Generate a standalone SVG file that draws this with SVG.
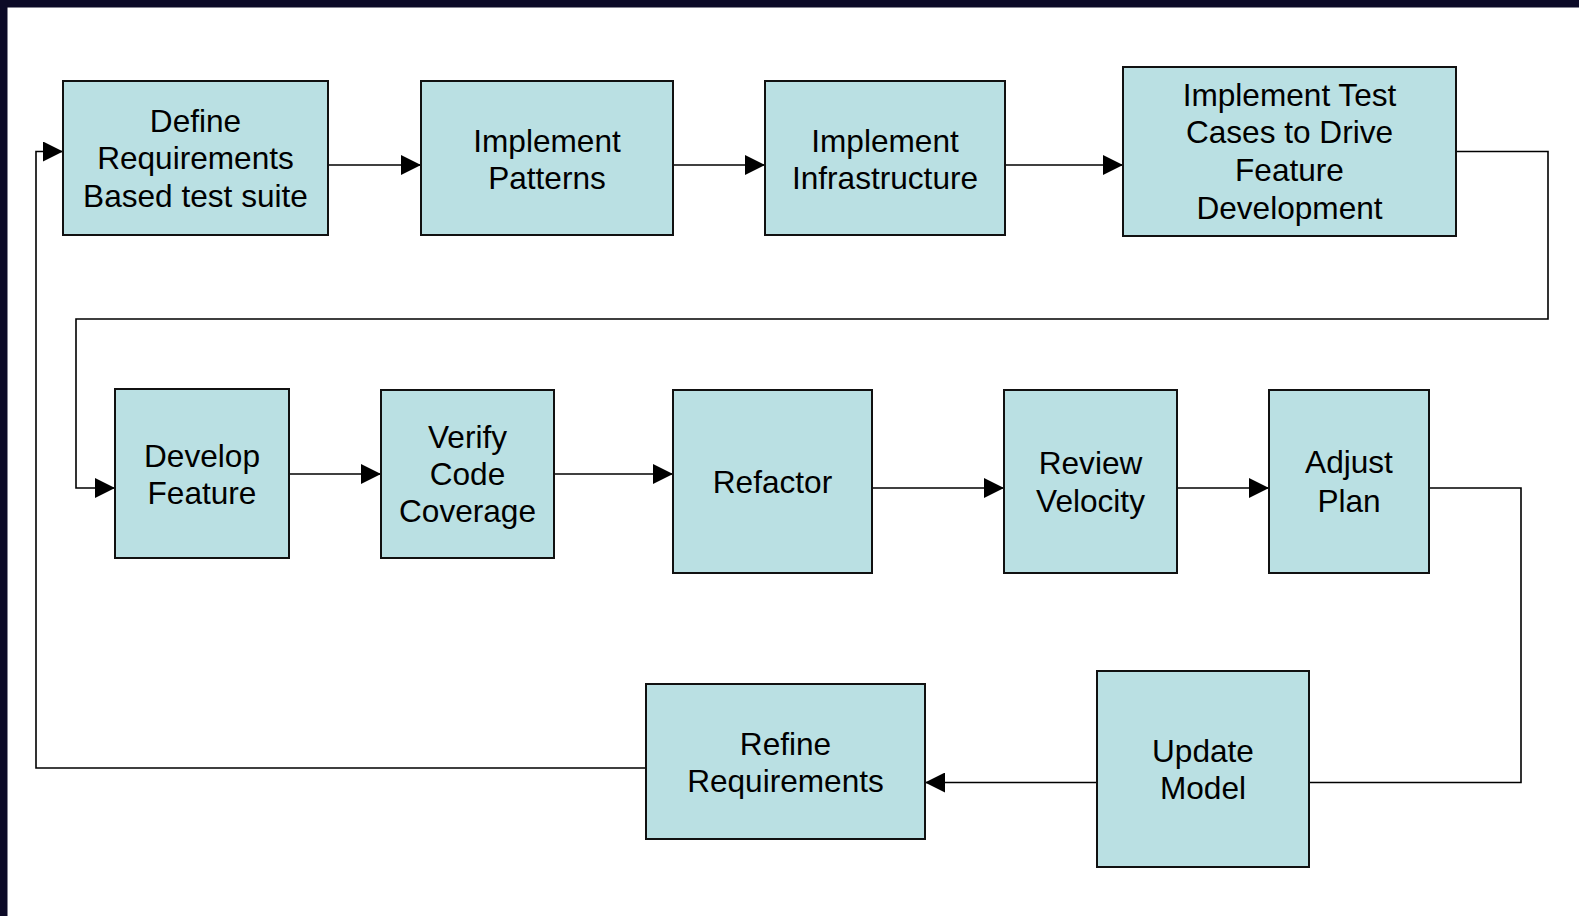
<svg xmlns="http://www.w3.org/2000/svg" width="1579" height="916" viewBox="0 0 1579 916">
<defs>
<marker id="arr" markerUnits="userSpaceOnUse" markerWidth="20" markerHeight="20" refX="20" refY="10" orient="auto">
<path d="M0,0 L20,10 L0,20 z" fill="#000"/>
</marker>
<style>
.box{fill:#bae0e3;stroke:#111;stroke-width:2}
.lbl{font-family:"Liberation Sans",Arial,sans-serif;font-size:31.6px;fill:#000;text-anchor:middle}
.con{fill:none;stroke:#000;stroke-width:1.6}
</style>
</defs>
<rect x="0" y="0" width="1579" height="916" fill="#fff"/>
<rect x="0" y="0" width="1579" height="7.5" fill="#0c0a27"/>
<rect x="0" y="0" width="7.5" height="916" fill="#0c0a27"/>

<g id="connectors">
<path class="con" d="M328,165 H421" marker-end="url(#arr)"/>
<path class="con" d="M673,165 H765" marker-end="url(#arr)"/>
<path class="con" d="M1005,165 H1123" marker-end="url(#arr)"/>
<path class="con" d="M1456,151.5 H1548 V319 H76 V488 H115" marker-end="url(#arr)"/>
<path class="con" d="M289,474 H381" marker-end="url(#arr)"/>
<path class="con" d="M554,474 H673" marker-end="url(#arr)"/>
<path class="con" d="M872,488 H1004" marker-end="url(#arr)"/>
<path class="con" d="M1177,488 H1269" marker-end="url(#arr)"/>
<path class="con" d="M1429,488 H1521 V782.5 H1309"/>
<path class="con" d="M1097,782.5 H925" marker-end="url(#arr)"/>
<path class="con" d="M646,768 H36 V151.5 H63" marker-end="url(#arr)"/>
</g>

<g id="n-define">
<rect class="box" x="63" y="81" width="265" height="154"/>
<text class="lbl" x="195.5" y="131.7">Define</text>
<text class="lbl" x="195.5" y="169.2">Requirements</text>
<text class="lbl" x="195.5" y="206.7">Based test suite</text>
</g>
<g id="n-patterns">
<rect class="box" x="421" y="81" width="252" height="154"/>
<text class="lbl" x="547" y="151.7">Implement</text>
<text class="lbl" x="547" y="189">Patterns</text>
</g>
<g id="n-infra">
<rect class="box" x="765" y="81" width="240" height="154"/>
<text class="lbl" x="885" y="151.7">Implement</text>
<text class="lbl" x="885" y="189">Infrastructure</text>
</g>
<g id="n-testcases">
<rect class="box" x="1123" y="67" width="333" height="169"/>
<text class="lbl" x="1289.5" y="105.7">Implement Test</text>
<text class="lbl" x="1289.5" y="143.2">Cases to Drive</text>
<text class="lbl" x="1289.5" y="181.2">Feature</text>
<text class="lbl" x="1289.5" y="219">Development</text>
</g>
<g id="n-develop">
<rect class="box" x="115" y="389" width="174" height="169"/>
<text class="lbl" x="202" y="466.7">Develop</text>
<text class="lbl" x="202" y="504">Feature</text>
</g>
<g id="n-verify">
<rect class="box" x="381" y="390" width="173" height="168"/>
<text class="lbl" x="467.5" y="447.5">Verify</text>
<text class="lbl" x="467.5" y="485">Code</text>
<text class="lbl" x="467.5" y="522">Coverage</text>
</g>
<g id="n-refactor">
<rect class="box" x="673" y="390" width="199" height="183"/>
<text class="lbl" x="772.5" y="493.3">Refactor</text>
</g>
<g id="n-review">
<rect class="box" x="1004" y="390" width="173" height="183"/>
<text class="lbl" x="1090.5" y="474">Review</text>
<text class="lbl" x="1090.5" y="511.5">Velocity</text>
</g>
<g id="n-adjust">
<rect class="box" x="1269" y="390" width="160" height="183"/>
<text class="lbl" x="1349" y="473">Adjust</text>
<text class="lbl" x="1349" y="511.5">Plan</text>
</g>
<g id="n-update">
<rect class="box" x="1097" y="671" width="212" height="196"/>
<text class="lbl" x="1203" y="761.7">Update</text>
<text class="lbl" x="1203" y="799.3">Model</text>
</g>
<g id="n-refine">
<rect class="box" x="646" y="684" width="279" height="155"/>
<text class="lbl" x="785.5" y="754.5">Refine</text>
<text class="lbl" x="785.5" y="792">Requirements</text>
</g>
</svg>
